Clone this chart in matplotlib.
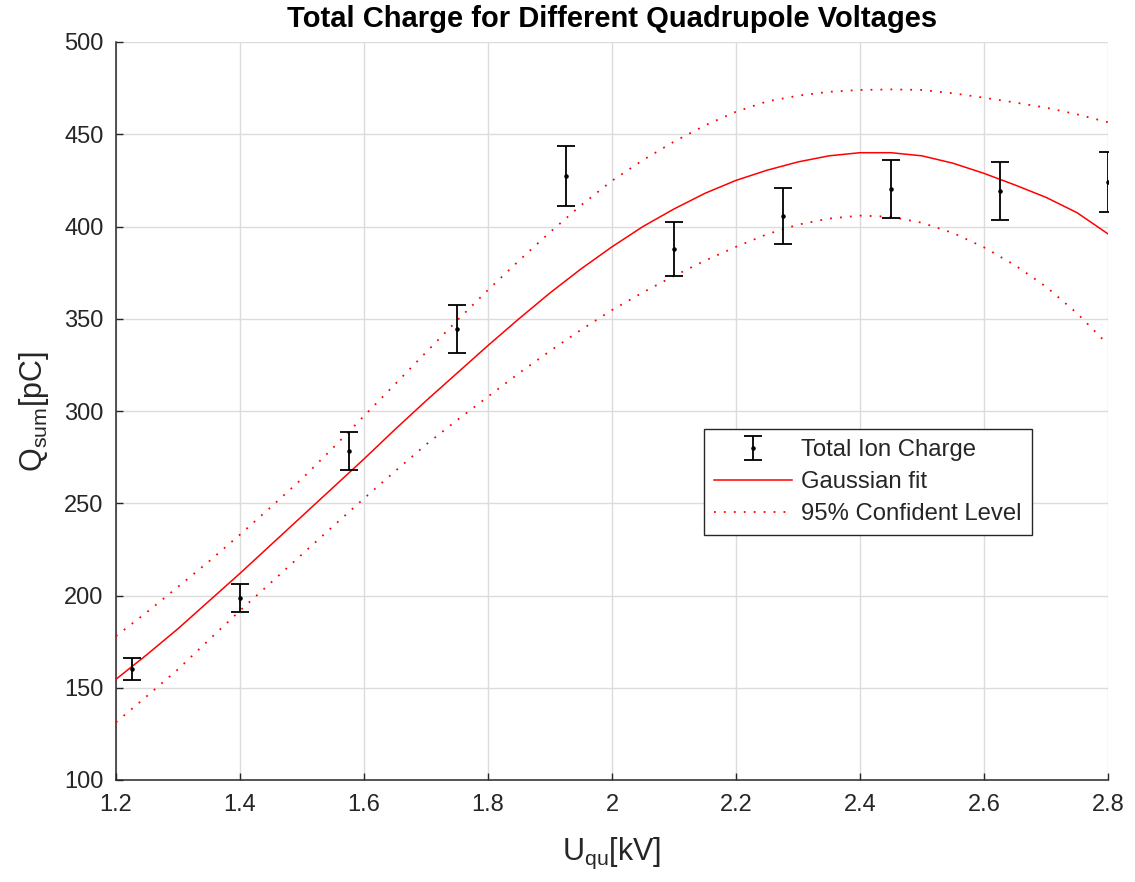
import matplotlib
matplotlib.use("Agg")
import matplotlib.pyplot as plt

# ---- data ----
u_meas = [1.225, 1.4, 1.575, 1.75, 1.925, 2.1, 2.275, 2.45, 2.625, 2.8]
q_meas = [160.0, 198.5, 278.3, 344.6, 427.5, 387.8, 405.8, 420.2, 419.1, 424.2]
q_err = [5.9, 7.5, 10.3, 13.0, 16.2, 14.6, 15.2, 15.8, 15.7, 16.3]

u_fit = [1.2, 1.25, 1.3, 1.35, 1.4, 1.45, 1.5, 1.55, 1.6, 1.65, 1.7, 1.75, 1.8, 1.85, 1.9,
         1.95, 2.0, 2.05, 2.1, 2.15, 2.2, 2.25, 2.3, 2.35, 2.4, 2.45, 2.5, 2.55, 2.6, 2.65,
         2.7, 2.75, 2.8]
q_fit = [154.6, 168.0, 182.0, 197.0, 212.0, 227.5, 243.0, 258.5, 274.0, 290.0, 305.5, 320.5,
         335.5, 350.0, 364.0, 377.0, 389.0, 400.0, 409.5, 418.0, 425.0, 430.5, 435.0, 438.3,
         440.0, 440.0, 438.3, 434.3, 428.8, 422.5, 415.8, 407.5, 396.0]
q_upper = [178.0, 191.0, 204.7, 218.5, 233.0, 248.0, 263.3, 280.0, 297.3, 314.5, 331.8, 349.0,
           365.6, 381.5, 396.9, 411.5, 424.8, 436.0, 446.0, 454.8, 462.2, 467.8, 470.9, 473.0,
           474.0, 474.3, 474.0, 472.2, 469.8, 467.2, 464.4, 460.8, 456.5]
q_lower = [131.3, 145.5, 160.0, 176.0, 191.8, 207.0, 222.3, 237.5, 252.6, 267.3, 281.8, 295.0,
           307.8, 320.5, 332.5, 344.0, 354.7, 364.3, 373.2, 381.5, 389.0, 395.8, 401.0, 404.3,
           405.9, 405.3, 402.0, 396.5, 388.7, 379.0, 367.4, 353.0, 336.0]

x_ticks = [1.2, 1.4, 1.6, 1.8, 2.0, 2.2, 2.4, 2.6, 2.8]
x_ticklabels = ["1.2", "1.4", "1.6", "1.8", "2", "2.2", "2.4", "2.6", "2.8"]
y_ticks = [100, 150, 200, 250, 300, 350, 400, 450, 500]

title = "Total Charge for Different Quadrupole Voltages"
legend_labels = ["Total Ion Charge", "Gaussian fit", "95% Confident Level"]

# ---- style ----
plt.rcParams["font.family"] = ["Liberation Sans", "DejaVu Sans"]
plt.rcParams["mathtext.fontset"] = "custom"
plt.rcParams["mathtext.rm"] = "Liberation Sans"
plt.rcParams["mathtext.it"] = "Liberation Sans"
dark = "#262626"

fig = plt.figure(figsize=(11.35, 8.82), dpi=100)
ax = fig.add_axes([116 / 1135, 1 - 780 / 882, 992 / 1135, 738 / 882])

eb = ax.errorbar(u_meas, q_meas, yerr=q_err, fmt=".", color="black", ecolor="black",
                 markersize=4.5, elinewidth=1.3, capsize=6.5, capthick=1.3, zorder=4,
                 label=legend_labels[0])
fit_line, = ax.plot(u_fit, q_fit, color="#ff0000", lw=1.1, zorder=3, label=legend_labels[1])
up_line, = ax.plot(u_fit, q_upper, color="#ff0000", lw=1.3, dashes=(1, 4.5), zorder=3,
                   label=legend_labels[2])
ax.plot(u_fit, q_lower, color="#ff0000", lw=1.3, dashes=(1, 4.5), zorder=3)

ax.set_xlim(1.2, 2.8)
ax.set_ylim(100, 500)
ax.set_xticks(x_ticks)
ax.set_xticklabels(x_ticklabels)
ax.set_yticks(y_ticks)

ax.grid(True, color="#dcdcdc", lw=1.0)
ax.set_axisbelow(True)
for s in ["top", "right"]:
    ax.spines[s].set_visible(False)
for s in ["left", "bottom"]:
    ax.spines[s].set_color(dark)
    ax.spines[s].set_linewidth(1.1)

ax.tick_params(axis="both", which="major", direction="in", length=5, width=1.0, color=dark,
               labelcolor=dark, labelsize=17)
ax.tick_params(axis="x", pad=10)
ax.tick_params(axis="y", pad=9)

ax.set_xlabel(r"$\mathrm{U_{qu}[kV]}$", fontsize=22, color=dark)
ax.set_ylabel(r"$\mathrm{Q_{sum}[pC]}$", fontsize=22, color=dark)
ax.xaxis.set_label_coords(0.5, -0.075)
ax.yaxis.set_label_coords(-0.066, 0.5)

ax.set_title(title, fontsize=21, fontweight="bold", color="black", pad=11)

leg = ax.legend(handles=[eb, fit_line, up_line], loc="upper left",
                bbox_to_anchor=(0.593, 0.4756), borderaxespad=0, fontsize=17.2,
                fancybox=False, framealpha=1, edgecolor=dark, handlelength=3.25,
                labelspacing=0.42, borderpad=0.42, handletextpad=0.38, numpoints=1)
leg.get_frame().set_linewidth(1.0)
for t in leg.get_texts():
    t.set_color(dark)

fig.savefig("out.png", dpi=100)
